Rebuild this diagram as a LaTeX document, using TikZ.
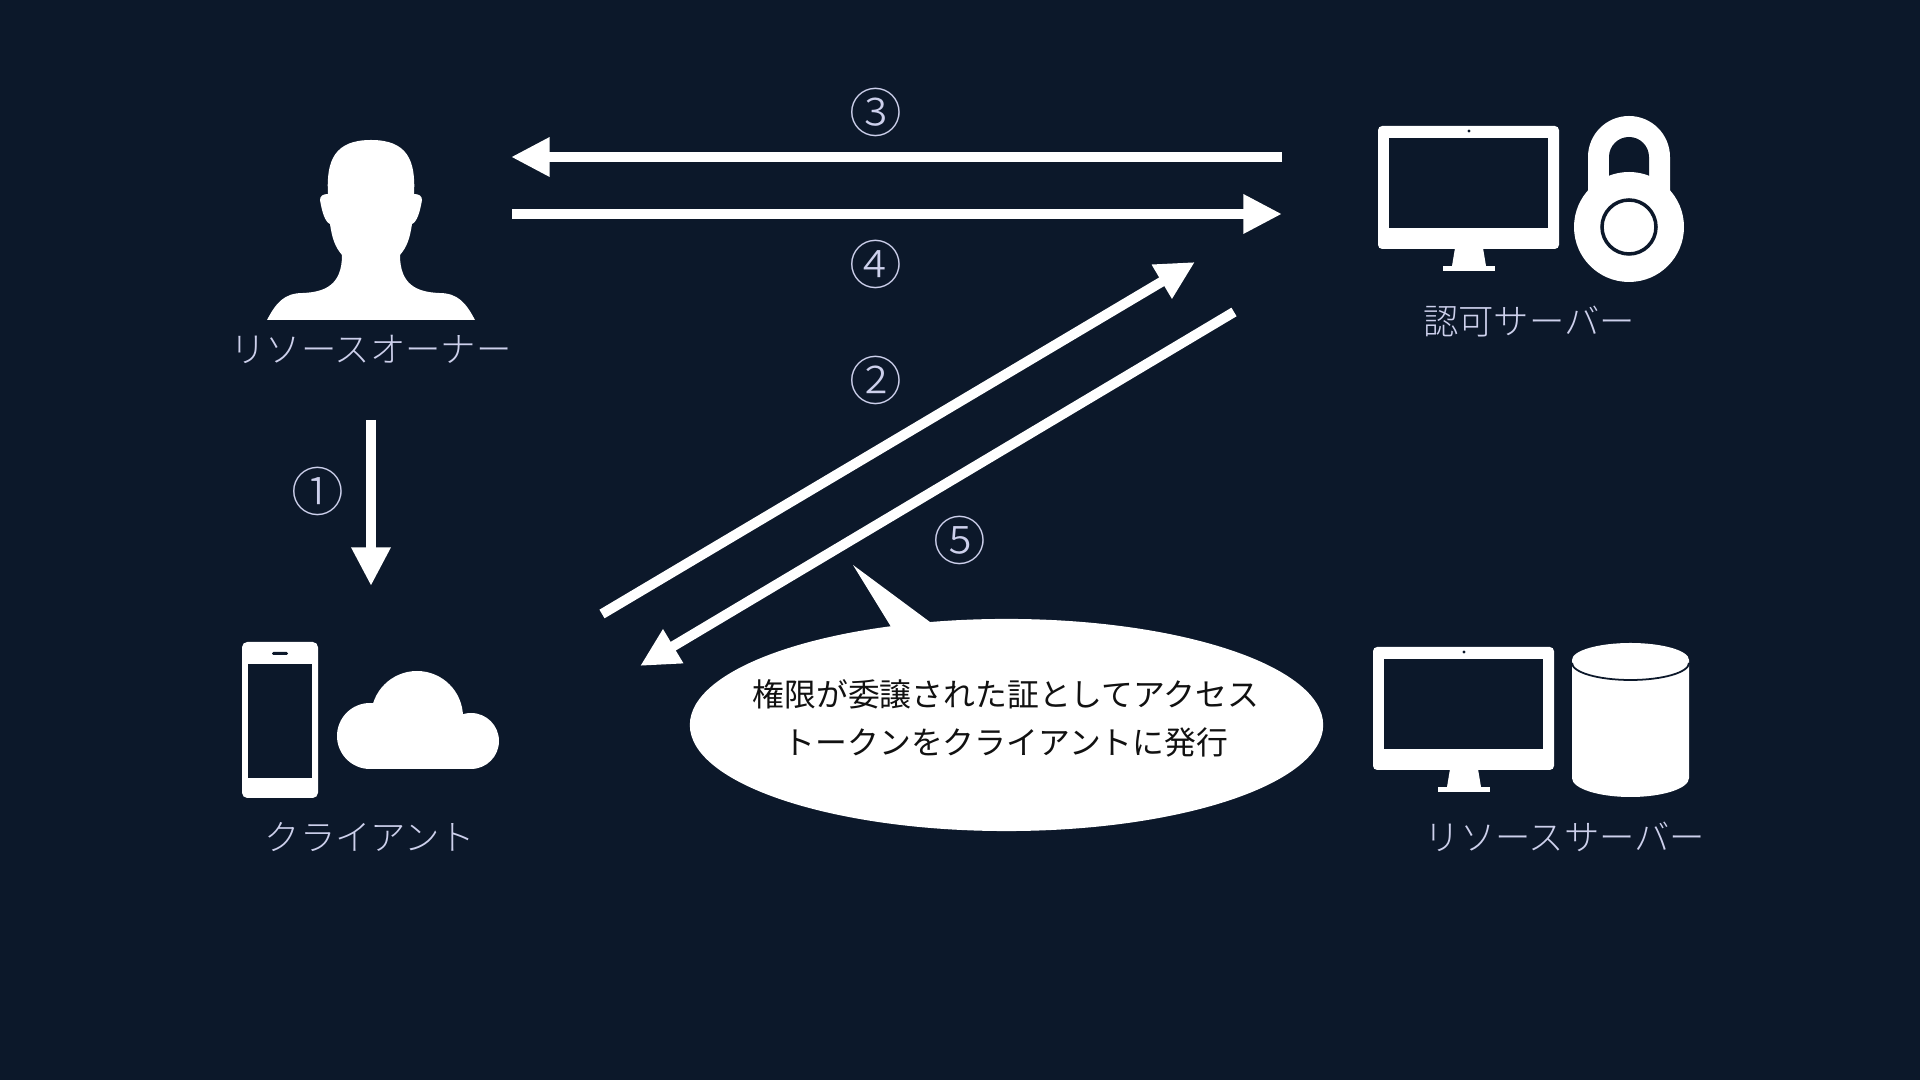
\documentclass[tikz,border=0pt]{standalone}
\usepackage{fontspec}
\setmainfont{Noto Sans CJK JP Light}
\newfontfamily\calloutfont{Noto Sans CJK JP}
\usetikzlibrary{arrows.meta, positioning, shapes.geometric}
\definecolor{bgcolor}{RGB}{12,24,42}
\definecolor{labelcolor}{RGB}{205,208,236}
\definecolor{calloutink}{RGB}{17,17,17}
\tikzset{
  flow/.style     = {-{Triangle[length=11pt, width=10.5pt]}, line width=2.85pt, color=white},
  namelabel/.style = {text=labelcolor, inner sep=0pt, font=\fontsize{10.05}{12}\selectfont},
  steplabel/.style = {text=labelcolor, inner sep=0pt, font=\fontsize{15}{18}\selectfont},
  callout/.style  = {ellipse, fill=white, minimum width=6.33cm, minimum height=2.12cm, inner sep=0pt},
  callouttext/.style = {text=calloutink, align=center, inner sep=0pt,
                   font=\calloutfont\fontsize{9.05}{13.7}\selectfont},
  icon/.style     = {fill=white},
  iconhole/.style = {fill=bgcolor},
}
\begin{document}
\begin{tikzpicture}[x=0.01cm, y=-0.01cm]

  \fill[bgcolor] (0,0) rectangle (1920,1080);
  \useasboundingbox (0,0) rectangle (1920,1080);

  % resource owner
  \fill[icon] (267,320) .. controls (276,303) and (284,293) .. (303,293)
    .. controls (325,292) and (342,285) .. (342,255)
    .. controls (335,247) and (332,238) .. (330,224)
    .. controls (325,222) and (322,212) .. (320,200)
    .. controls (320,196) and (323,194) .. (328,194)
    .. controls (326,160) and (335,140) .. (371,140)
    .. controls (407,140) and (416,160) .. (414,194)
    .. controls (419,194) and (422,196) .. (422,200)
    .. controls (420,212) and (417,222) .. (412,224)
    .. controls (410,238) and (407,247) .. (400,255)
    .. controls (400,285) and (417,292) .. (439,293)
    .. controls (458,293) and (466,303) .. (475,320) -- cycle;
  \node[namelabel] (ownerlabel) at (371,349) {リソースオーナー};

  % monitors of both servers
  \foreach \mx/\my in {0/0, -5/521} {
    \begin{scope}[shift={(\mx,\my)}]
    \fill[icon, rounded corners=1.2pt] (1378,126) rectangle (1559,249);
    \fill[iconhole] (1389,138) rectangle (1548,228);
    \fill[iconhole] (1469,131) circle[radius=1.6];
    \fill[icon] (1455,248) -- (1483,248) -- (1486,266) -- (1452,266) -- cycle;
    \fill[icon] (1443,266) rectangle (1495,271);
    \end{scope}
  }

  % padlock
  \fill[icon] (1588,200) -- (1588,157) arc[start angle=180, end angle=360, radius=41] -- (1670,200) -- cycle;
  \fill[iconhole] (1609,185) -- (1609,157) arc[start angle=180, end angle=360, radius=20] -- (1649,185) -- cycle;
  \fill[icon] (1629,227) circle[radius=55];
  \draw[color=bgcolor, line width=1pt] (1629,227) circle[radius=27];
  \node[namelabel] (authlabel) at (1529,322) {認可サーバー};

  % phone
  \fill[icon, rounded corners=1.5pt] (242,642) rectangle (318,798);
  \fill[iconhole] (248,664) rectangle (312,778);
  \fill[iconhole, rounded corners=0.4pt] (272,652) rectangle (288,655);

  % cloud
  \foreach \cx/\cy/\cr in {370/736/33, 417/717/46, 471/741/28} {
    \fill[icon] (\cx,\cy) circle[radius=\cr];
  }
  \fill[icon] (370,730) rectangle (471,769);
  \node[namelabel] (clientlabel) at (370,837) {クライアント};

  % storage drum
  \fill[icon] (1572,660) -- (1572,778) arc[start angle=180, end angle=0, x radius=58.5, y radius=19]
    -- (1689,660) -- cycle;
  \fill[icon] (1630.5,660) circle[x radius=58.5, y radius=17];
  \draw[color=bgcolor, line width=0.5pt] (1572,663) arc[start angle=180, end angle=0, x radius=58.5, y radius=17];
  \node[namelabel] (resourcelabel) at (1565,837) {リソースサーバー};

  % flows, free ends
  \coordinate (a1) at (371,420);  \coordinate (b1) at (371,586);
  \coordinate (a2) at (602,614);  \coordinate (b2) at (1195,262);
  \coordinate (a3) at (1282,157); \coordinate (b3) at (511,157);
  \coordinate (a4) at (512,214);  \coordinate (b4) at (1282,214);
  \coordinate (a5) at (1234,312); \coordinate (b5) at (640,666);
  \foreach \i in {1,...,5} {
    \draw[flow] (a\i) -- (b\i);
  }

  % step numbers
  \foreach \i/\t/\x/\y in {one/①/318/491, two/②/876/380, three/③/876/112, four/④/876/264, five/⑤/960/540} {
    \node[steplabel] (\i) at (\x,\y) {\t};
  }

  % speech balloon
  \node[callout] (balloon) at (1006.5,725) {};
  \coordinate (tailtip) at (853,565);
  \fill[white] (tailtip) -- (893,630) -- (934,625) -- cycle;
  \node[callouttext] (balloontext) at (1006,718) {権限が委譲された証としてアクセス\\トークンをクライアントに発行};

\end{tikzpicture}
\end{document}
